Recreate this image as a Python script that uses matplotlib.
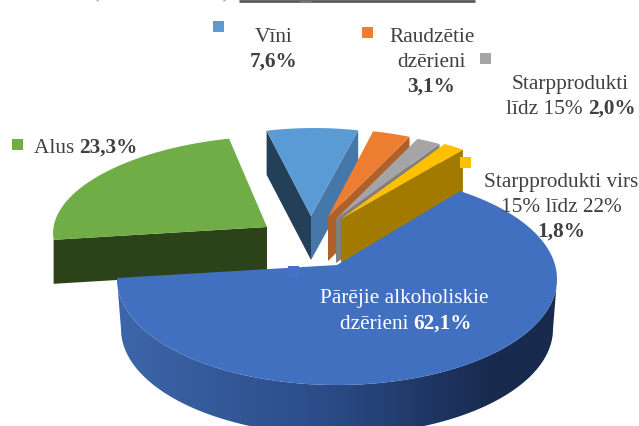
import numpy as np
import matplotlib
matplotlib.use("Agg")
from matplotlib import pyplot as plt
from matplotlib.patches import Polygon, Rectangle
from matplotlib.colors import LinearSegmentedColormap

labels = ["Pārējie alkoholiskie dzērieni", "Starpprodukti virs 15% līdz 22%", "Starpprodukti līdz 15%", "Raudzētie dzērieni", "Vīni", "Alus"]
shares = [62.1, 1.8, 2.0, 3.1, 7.6, 23.3]
top_colors = ["#4270c0", "#ffc000", "#a5a5a5", "#ed7d31", "#5b9bd5", "#70ad47"]
side_colors = ["#2a4a85", "#a37a00", "#7f7f7f", "#b0602a", "#4577a9", "#2c4319"]
far_colors = {"Vīni": "#243f58"}

plt.rcParams['font.family'] = ['Liberation Serif', 'DejaVu Serif']
TEXT = "#404040"
FS = 15.3
RX, RY = 220, 106
DEPTH = 44
START = 52

# screen layout of each exploded slice: apex x, apex y, x scale, y scale, shear
apex = {
    labels[1]: (341, 220, 0.9, 0.83, 0),
    labels[2]: (336, 220, 0.9, 0.83, 0),
    labels[3]: (328, 218, 0.9, 0.83, 0),
    labels[4]: (311, 217, 0.88, 0.83, 0.03),
    labels[5]: (267, 228, 0.97, 0.86, 0.14),
}

fig = plt.figure(figsize=(6.39, 4.27), dpi=100)
ax = fig.add_axes([0, 0, 1, 1])
ax.set_xlim(0, 639)
ax.set_ylim(427, 0)
ax.axis('off')


def cut_face(a, px, py, color):
    ax.add_patch(Polygon([(a[0], a[1]), (px, py), (px, py + DEPTH), (a[0], a[1] + DEPTH)], color=color, lw=0))


def draw_slice(name, t1, t2, top, side):
    a = apex[name]
    t = np.radians(np.linspace(t1, t2, 60))
    x = a[0] + a[2] * RX * np.cos(t) + a[4] * RY * np.sin(t)
    y = a[1] - a[3] * RY * np.sin(t)
    if name == "Alus":
        cut_face(a, x[-1], y[-1], side)
    else:
        if name in far_colors:
            cut_face(a, x[-1], y[-1], far_colors[name])
        cut_face(a, x[0], y[0], side)
    ax.add_patch(Polygon(list(zip(x, y)) + [(a[0], a[1])], color=top, lw=0))


def draw_main(t1, t2, top):
    cx, cy = 337, 280
    t = np.radians(np.linspace(t1, t2, 240))
    x = cx + RX * np.cos(t)
    y = cy - RY * np.sin(t)
    # side wall, shaded left to right and clipped to the rim
    tt = np.radians(np.linspace(180, 360, 120))
    rim_x = cx + RX * np.cos(tt)
    rim_y = cy - RY * np.sin(tt)
    low_x = cx + (RX - 4) * np.cos(tt)
    low_y = cy + 50 - RY * np.sin(tt)
    wall = Polygon(list(zip(rim_x, rim_y)) + list(zip(low_x[::-1], low_y[::-1])), transform=ax.transData, fc="none", lw=0)
    ax.add_patch(wall)
    cmap = LinearSegmentedColormap.from_list("wall", [(0, "#3d66aa"), (0.5, "#2a4a85"), (0.85, "#182a4e"), (1, "#182a4e")])
    im = ax.imshow(np.linspace(0, 1, 256)[None, :], cmap=cmap, extent=(117, 557, 500, 200), aspect="auto", zorder=0.5)
    im.set_clip_path(wall)
    ax.set_xlim(0, 639)
    ax.set_ylim(427, 0)
    ax.add_patch(Polygon(list(zip(x, y)) + [(337, 266)], color=top, lw=0))


def write(cx, base, parts, color=TEXT, left=False):
    r = fig.canvas.get_renderer()
    items = [ax.text(0, base, s, fontsize=FS, color=color, weight="bold" if b else "normal", va="baseline") for s, b in parts]
    w = [i.get_window_extent(r).width for i in items]
    x = cx if left else cx - sum(w) / 2
    for i, wi in zip(items, w):
        i.set_x(x)
        x += wi


# top slices, going round from the blue one
cum = np.cumsum(shares) * 3.6
for k in [5, 4, 3, 2, 1]:
    t1 = START + (cum[k - 1] - cum[0])
    t2 = START + (cum[k] - cum[0])
    draw_slice(labels[k], t1, t2, top_colors[k], side_colors[k])
draw_main(START + 4, START + 4 - cum[0] * 1.058, top_colors[0])

# legend keys
for x, y, c in [(213, 22, "#5b9bd5"), (362, 28, "#ed7d31"), (480, 54, "#a5a5a5"), (12, 140, "#70ad47"), (460, 158, "#ffc000"), (288, 267, "#4472c4")]:
    ax.add_patch(Rectangle((x, y), 11, 11, color=c, lw=0))

pct = [f"{s:.1f}%".replace(".", ",") for s in shares]
write(274, 42, [("Vīni", False)])
write(274, 67, [(pct[4], True)])
write(432, 42, [("Raudzētie", False)])
write(431, 67, [("dzērieni", False)])
write(431, 92, [(pct[3], True)])
write(570, 89, [("Starpprodukti", False)])
write(571, 114, [("līdz 15% ", False), (pct[2], True)])
write(561, 187, [("Starpprodukti virs", False)])
write(561, 212, [("15% līdz 22%", False)])
write(561, 237, [(pct[1], True)])
write(34, 153, [("Alus ", False), (pct[5], True)], left=True)
write(404, 303, [("Pārējie alkoholiskie", False)], color="white")
write(406, 329, [("dzērieni ", False), (pct[0], True)], color="white")

# cut off heading at the top edge
ax.plot([239, 475], [1.6, 1.6], color="#595959", lw=2, solid_capstyle="butt")
ax.plot([301, 311], [2.6, 2.6], color="#777777", lw=1.5)
ax.plot([96, 98], [0, 2], color="#aaaaaa", lw=1)
ax.plot([226, 224], [0, 2], color="#aaaaaa", lw=1)

fig.savefig("out.png", dpi=100)
